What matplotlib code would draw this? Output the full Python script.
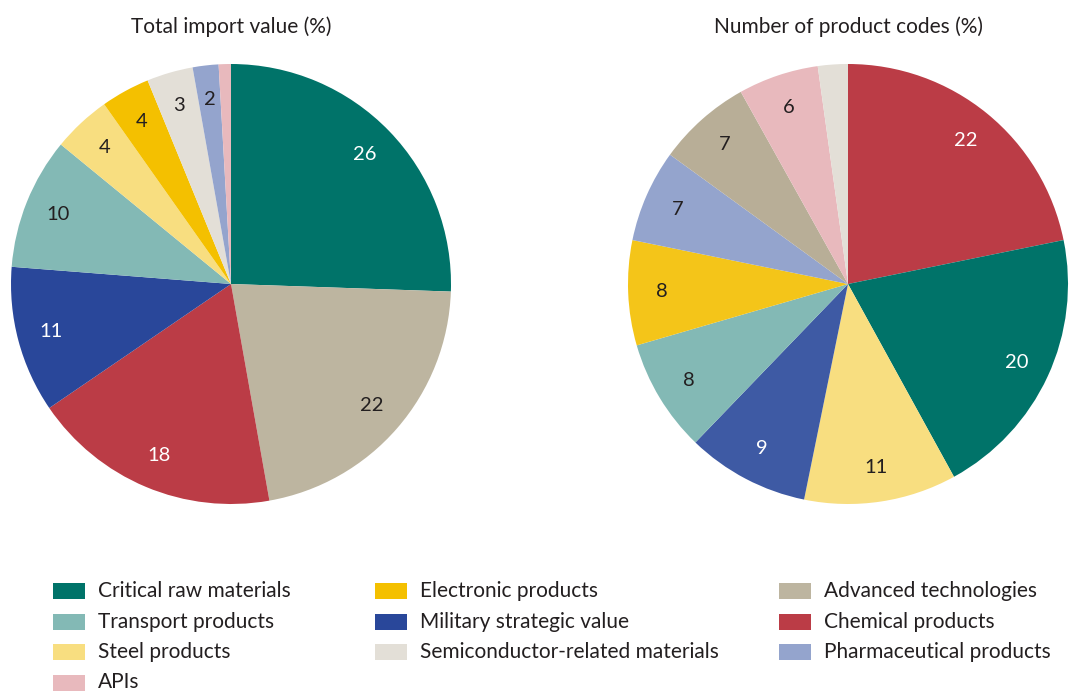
import matplotlib
matplotlib.use("Agg")
import matplotlib.pyplot as plt
from matplotlib.patches import Rectangle
import numpy as np

plt.rcParams["font.family"] = ["Lato", "DejaVu Sans"]

W, H = 1069, 691
DPI = 100

categories = [
    "Critical raw materials", "Transport products", "Steel products", "APIs",
    "Electronic products", "Military strategic value", "Semiconductor-related materials",
    "Advanced technologies", "Chemical products", "Pharmaceutical products",
]

colors = {
    "Critical raw materials": "#007369",
    "Transport products": "#83B9B5",
    "Steel products": "#F8DE80",
    "APIs": "#E8B9BD",
    "Electronic products": "#F4C000",
    "Military strategic value": "#29479A",
    "Semiconductor-related materials": "#E3DFD7",
    "Advanced technologies": "#BDB5A0",
    "Chemical products": "#BB3C46",
    "Pharmaceutical products": "#94A4CD",
}
colors_right = dict(colors)
colors_right.update({
    "Military strategic value": "#3E5AA4",
    "Electronic products": "#F4C519",
    "Advanced technologies": "#B8AE97",
})

dark_slices = {"Critical raw materials", "Chemical products", "Military strategic value"}

# Share of total import value (%), clockwise from 12 o'clock
import_order = [
    "Critical raw materials", "Advanced technologies", "Chemical products",
    "Military strategic value", "Transport products", "Steel products",
    "Electronic products", "Semiconductor-related materials",
    "Pharmaceutical products", "APIs",
]
import_share = [25.6, 21.7, 18.3, 10.8, 9.7, 4.3, 3.6, 3.4, 1.9, 0.9]

# Share of product codes (%), clockwise from 12 o'clock
codes_order = [
    "Chemical products", "Critical raw materials", "Steel products",
    "Military strategic value", "Transport products", "Electronic products",
    "Pharmaceutical products", "Advanced technologies", "APIs",
    "Semiconductor-related materials",
]
codes_share = [21.8, 20.2, 11.2, 9.0, 8.3, 7.7, 6.8, 6.9, 5.9, 2.2]


def px_box(x0, y0, w, h):
    """Pixel box (top-left origin) -> figure fraction rect."""
    return [x0 / W, 1 - (y0 + h) / H, w / W, h / H]


fig = plt.figure(figsize=(W / DPI, H / DPI), dpi=DPI)

TEXT = "#231F20"


def draw_pie(rect, order, shares, cmap, title, min_label):
    ax = fig.add_axes(rect)
    wedges, _ = ax.pie(
        shares,
        colors=[cmap[c] for c in order],
        startangle=90,
        counterclock=False,
        radius=1.0,
        wedgeprops=dict(linewidth=0),
    )
    for w, name, v in zip(wedges, order, shares):
        if v < min_label:
            continue
        ang = np.deg2rad((w.theta1 + w.theta2) / 2)
        r = 0.845
        ax.text(r * np.cos(ang), r * np.sin(ang), f"{round(v):d}",
                ha="center", va="center", fontsize=14.5,
                color="white" if name in dark_slices else TEXT)
    ax.set_xlim(-1, 1)
    ax.set_ylim(-1, 1)
    ax.set_aspect("equal")
    ax.axis("off")
    ax.set_title(title, fontsize=15, color=TEXT, pad=22)
    return ax


draw_pie(px_box(11, 64, 440, 440), import_order, import_share, colors,
         "Total import value (%)", 1.5)
draw_pie(px_box(628, 64, 440, 440), codes_order, codes_share, colors_right,
         "Number of product codes (%)", 2.5)

# Legend: three columns, filled top to bottom
leg = fig.add_axes([0, 0, 1, 1])
leg.set_xlim(0, W)
leg.set_ylim(H, 0)
leg.axis("off")
col_x = [53, 375, 779]
row_y0, row_dy = 591, 30.5
columns = [categories[0:4], categories[4:7], categories[7:10]]
for cx, names in zip(col_x, columns):
    for i, name in enumerate(names):
        cy = row_y0 + i * row_dy
        leg.add_patch(Rectangle((cx, cy - 8), 32, 16, color=colors[name], lw=0))
        leg.text(cx + 45, cy, name, ha="left", va="center", fontsize=15, color=TEXT)

fig.savefig("out.png", dpi=DPI)
